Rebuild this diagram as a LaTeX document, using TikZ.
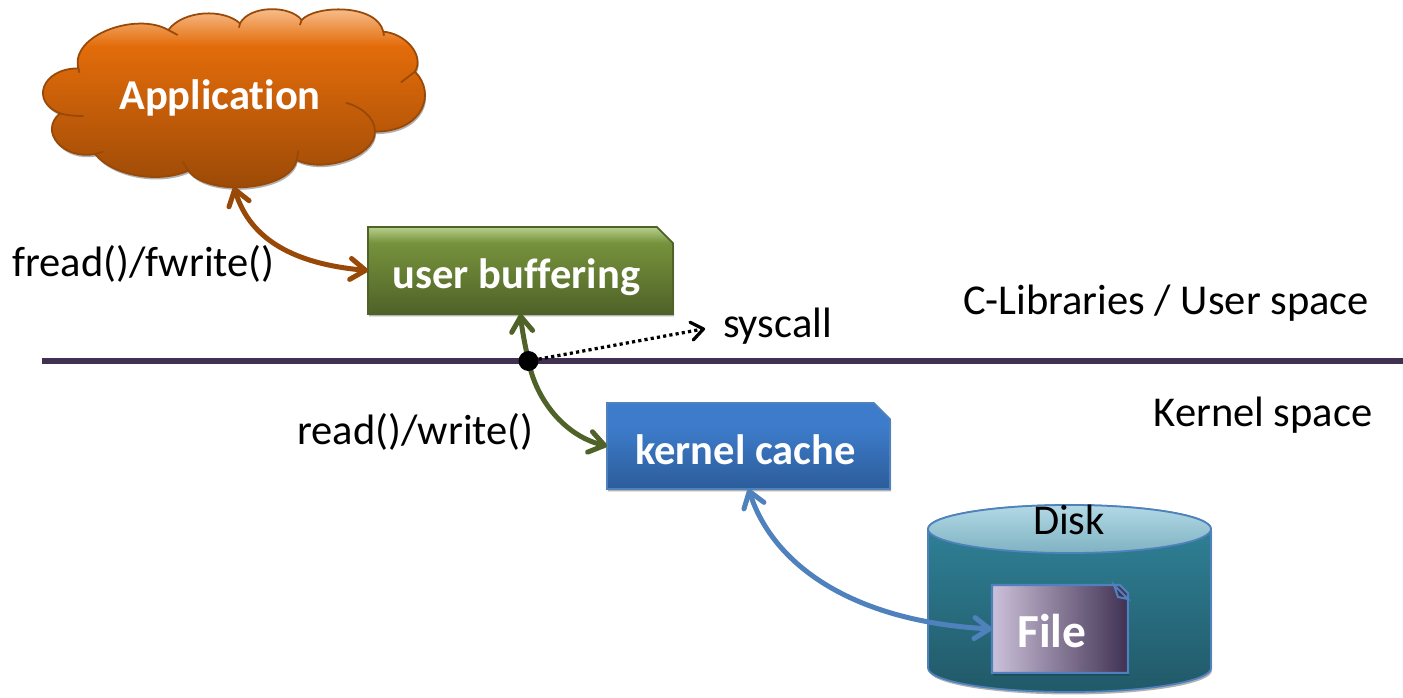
\documentclass[tikz,border=0pt]{standalone}
\usepackage{fontspec}
\setmainfont{Carlito}[Ligatures=NoCommon]
\usetikzlibrary{arrows.meta, positioning, calc, shadows, shapes.misc}

\definecolor{appedge}{HTML}{984807}
\definecolor{appmid}{HTML}{E36C0A}
\definecolor{apptop}{HTML}{F6B882}
\definecolor{useredge}{HTML}{4F6228}
\definecolor{usermid}{HTML}{76923C}
\definecolor{usertop}{HTML}{B7D08C}
\definecolor{kerneledge}{HTML}{4F81BD}
\definecolor{kernelbot}{HTML}{2C5C9A}
\definecolor{kerneltop}{HTML}{3D7CCB}
\definecolor{rulecolor}{HTML}{403152}
\definecolor{diskbot}{HTML}{215968}
\definecolor{disktop}{HTML}{31859C}
\definecolor{capbot}{HTML}{7FB2C2}
\definecolor{captop}{HTML}{B2D9E5}
\definecolor{fileleft}{HTML}{CCC1DA}
\definecolor{fileright}{HTML}{403152}

% the path sits between 25bp and 75bp of these
\pgfdeclareverticalshading{appshade}{100bp}{color(0bp)=(appedge); color(25bp)=(appedge); color(64bp)=(appmid); color(73bp)=(apptop); color(100bp)=(apptop)}
\pgfdeclareverticalshading{usershade}{100bp}{color(0bp)=(useredge); color(25bp)=(useredge); color(66bp)=(usermid); color(75bp)=(usertop); color(100bp)=(usertop)}
\pgfdeclareverticalshading{kernelshade}{100bp}{color(0bp)=(kernelbot); color(25bp)=(kernelbot); color(62bp)=(kerneltop); color(75bp)=(kerneltop); color(100bp)=(kerneltop)}

\tikzset{
    softshadow/.style={drop shadow={shadow xshift=.6pt, shadow yshift=-1.4pt, opacity=.3, fill=black}},
    notebox/.style={
        chamfered rectangle, chamfered rectangle corners=north east,
        chamfered rectangle xsep=.16cm, chamfered rectangle ysep=.16cm,
        inner sep=0pt, outer sep=0pt, line width=1pt, softshadow,
        text=white, text height=.88cm, text depth=.16cm,
        font=\fontsize{24.2}{28}\selectfont\bfseries
    },
    plainlabel/.style={font=\fontsize{24.2}{28}\selectfont, text=black},
    boldlabel/.style={font=\fontsize{24.2}{28}\selectfont\bfseries, text=white},
    barb/.tip={Straight Barb[length=.3cm,width=.42cm,round]},
    link/.style={line width=.1cm, line cap=round, barb-barb},
}

\begin{document}
\begin{tikzpicture}[x=.02cm, y=-.02cm]
    \useasboundingbox (0, 0) rectangle (1403, 697);

    % cloud, traced in 3x units
    \begin{scope}[x=.02cm/3, y=-.02cm/3]
        \path[shading=appshade, draw=appedge, line width=1pt, softshadow]
            (235,205) .. controls (210,105) and (410,35) .. (505,90)
            .. controls (550,30) and (670,25) .. (720,70)
            .. controls (750,15) and (870,15) .. (905,60)
            .. controls (945,15) and (1130,10) .. (1150,95)
            .. controls (1215,100) and (1275,165) .. (1245,215)
            .. controls (1310,280) and (1270,395) .. (1125,395)
            .. controls (1125,470) and (970,520) .. (890,480)
            .. controls (870,575) and (620,590) .. (565,512)
            .. controls (480,550) and (340,530) .. (285,462)
            .. controls (190,480) and (115,395) .. (180,340)
            .. controls (90,305) and (125,205) .. (235,205) -- cycle;
        \draw[appedge, line width=1pt]
            (235,205) -- (238,218) (505,90) -- (533,105) (720,70) -- (717,83)
            (905,60) -- (900,75) (1150,95) -- (1152,107) (1245,215) -- (1203,247)
            (1125,395) .. controls (1125,350) and (1080,320) .. (1038,308)
            (890,480) -- (895,452) (565,512) -- (548,485) (285,462) -- (310,455)
            (180,340) .. controls (200,346) and (225,348) .. (250,348);
    \end{scope}
    \node[boldlabel] (app) at (220, 98) {Application};
    \coordinate (appfoot) at (234, 187);

    % boxes
    \node[notebox, shading=usershade, draw=useredge, minimum width=6.1cm, minimum height=1.74cm] (user) at (520.5, 270.5) {user buffering\rule{.16cm}{0pt}};
    \node[notebox, shading=kernelshade, draw=kerneledge, minimum width=5.66cm, minimum height=1.72cm] (kernel) at (748.5, 446) {kernel cache\rule{.12cm}{0pt}};

    % separator
    \coordinate (rulestart) at (42, 361);
    \coordinate (ruleend) at (1403, 361);
    \draw[rulecolor, line width=.11cm, softshadow] (rulestart) -- (ruleend);

    % disk
    \path[bottom color=diskbot, top color=disktop, draw=kerneledge, line width=1pt, softshadow]
        (928, 529) -- (928, 668) arc[x radius=141.5, y radius=24, start angle=180, end angle=0] -- (1211, 529)
        arc[x radius=141.5, y radius=24, start angle=0, end angle=-180] -- cycle;
    \path[bottom color=capbot, top color=captop, draw=kerneledge, line width=1pt]
        (1069.5, 529) ellipse [x radius=141.5, y radius=24];
    \node[plainlabel] (disk) at (1069, 520) {Disk};

    % file
    \node[notebox, left color=fileleft, right color=fileright, draw=kerneledge, line width=1.2pt, minimum width=2.72cm, minimum height=1.76cm] (file) at (1060, 629) {};
    \node[boldlabel, font=\fontsize{27}{30}\selectfont\bfseries] (filetext) at (1052, 631) {File};
    \draw[kerneledge, line width=1.2pt, fill=fileright] (1114, 585) -- (1118, 597) -- (1128, 599) -- cycle;

    % connectors
    \draw[link, appedge] (appfoot) .. controls (250, 240) and (295, 264) .. (user.west);
    \node[plainlabel] (fread) at ($(user)+(-377, -7)$) {fread()/fwrite()};

    \node[circle, inner sep=0pt, minimum size=.4cm] (junction) at (528.5, 361) {};
    \draw[useredge, line width=.1cm, line cap=round, barb-] (user.south) .. controls (522, 330) and (525, 345) .. (junction.center);
    \draw[useredge, line width=.1cm, line cap=round, -barb] (junction.center) .. controls (536, 400) and (565, 436) .. (kernel.west);
    \fill[black] (junction) circle [radius=.2cm];
    \node[plainlabel] (readwrite) at ($(kernel)+(-333, -14)$) {read()/write()};

    \node[plainlabel] (syscall) at ($(user)+(257, 56)$) {syscall};
    \draw[line width=.065cm, dash pattern=on 1.8pt off 1.8pt, shorten >=.24cm, -{Straight Barb[length=.24cm,width=.36cm,round]}] (junction) -- (syscall.west);

    \draw[link, kerneledge] (kernel.south) .. controls (775, 570) and (860, 622) .. (file.west);

    \node[plainlabel] (userspace) at (1166, 303) {C-Libraries / User space};
    \node[plainlabel] (kernelspace) at (1263, 415) {Kernel space};
\end{tikzpicture}
\end{document}
